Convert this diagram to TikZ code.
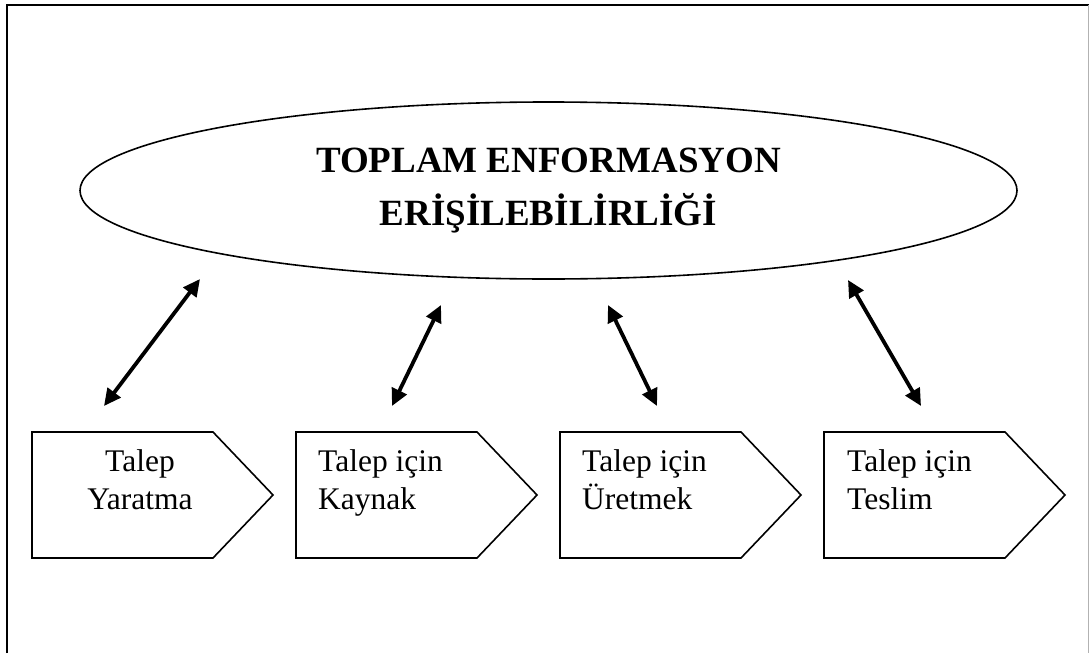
\documentclass[tikz,border=0pt]{standalone}
\usepackage{fontspec}
\setmainfont{Liberation Serif}
\usetikzlibrary{shapes.geometric,arrows.meta}
\begin{document}
\begin{tikzpicture}[x=1pt,y=-1pt,
  frameline/.style={line width=2.4pt,black},
  tagbox/.style={draw=black,line width=1.6pt,line join=miter},
  boxtext/.style={inner sep=0pt,font=\fontsize{31.5}{38}\selectfont},
  link/.style={line width=3.8pt,black,
    {Triangle[length=17pt,width=16pt]}-{Triangle[length=17pt,width=16pt]}}]
  \useasboundingbox (0,0) rectangle (1089,653);
  % page frame
  \draw[frameline] (7,653) -- (7,5) -- (1089,5);
  \draw[gray!60,line width=1pt] (1088,5) -- (1088,653);

  % central ellipse
  \node[draw,ellipse,line width=1.6pt,minimum width=937pt,minimum height=177pt,inner sep=0pt,
        align=center,font=\bfseries\fontsize{37}{53}\selectfont]
    (hub) at (548.5,190.5) {TOPLAM ENFORMASYON\\ERİŞİLEBİLİRLİĞİ};

  % process tags
  \draw[tagbox] (32,432) -- (213,432) -- (273,495) -- (213,558) -- (32,558) -- cycle;
  \draw[tagbox] (296,432) -- (477,432) -- (537,495) -- (477,558) -- (296,558) -- cycle;
  \draw[tagbox] (560,432) -- (741,432) -- (801,495) -- (741,558) -- (560,558) -- cycle;
  \draw[tagbox] (824,432) -- (1005,432) -- (1065,495) -- (1005,558) -- (824,558) -- cycle;

  % tag labels (anchored on the baseline of the second line)
  \node[boxtext,align=center,anchor=base] (t1) at (140,509) {Talep\\Yaratma};
  \node[boxtext,align=left,anchor=base west] (t2) at (318,509) {Talep için\\Kaynak};
  \node[boxtext,align=left,anchor=base west] (t3) at (582,509) {Talep için\\Üretmek};
  \node[boxtext,align=left,anchor=base west] (t4) at (847,509) {Talep için\\Teslim};

  % arrow end points
  \coordinate (a1) at (200,279);  \coordinate (b1) at (104,406);
  \coordinate (a2) at (441,305);  \coordinate (b2) at (392,406);
  \coordinate (a3) at (608,305);  \coordinate (b3) at (657,406);
  \coordinate (a4) at (848,280);  \coordinate (b4) at (921,406);
  \draw[link] (a1) -- (b1);
  \draw[link] (a2) -- (b2);
  \draw[link] (a3) -- (b3);
  \draw[link] (a4) -- (b4);
\end{tikzpicture}
\end{document}
